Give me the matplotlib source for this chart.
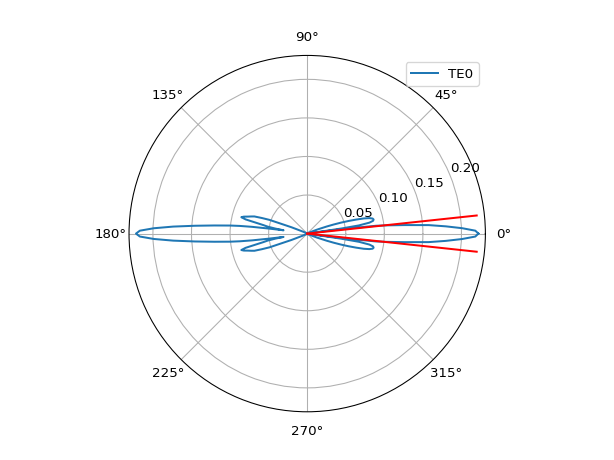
import numpy as np
import matplotlib
matplotlib.use("Agg")
import matplotlib.pyplot as plt

# angular offsets (deg) from the lobe axis, and radiated amplitude
offset_deg = [0, 1, 2, 3, 4, 5, 6, 6.5, 7, 7.5, 8, 8.5, 9, 10, 11, 12, 13, 14,
              15, 16, 17, 18, 19, 20, 22, 25, 30, 45, 60, 90]
# lobe around 0 deg
r_front = [0.222, 0.218, 0.201, 0.180, 0.158, 0.127, 0.102, 0.090, 0.060, 0.030,
           0.005, 0.045, 0.068, 0.082, 0.087, 0.088, 0.087, 0.083,
           0.076, 0.066, 0.056, 0.046, 0.036, 0.027, 0.014, 0.005, 0.002, 0.001, 0.0005, 0.0003]
# lobe around 180 deg
r_back = [0.222, 0.217, 0.199, 0.174, 0.146, 0.121, 0.100, 0.088, 0.072, 0.050,
          0.031, 0.036, 0.042, 0.052, 0.058, 0.068, 0.082, 0.088,
          0.085, 0.080, 0.076, 0.072, 0.062, 0.052, 0.022, 0.006, 0.002, 0.001, 0.0005, 0.0003]

red_angle_deg = 6.1
red_length = 0.221
r_max = 0.231
series_label = "TE0"

off = np.array(offset_deg)
rf = np.array(r_front)
rb = np.array(r_back)

theta_deg = np.concatenate([off, 180 - off[::-1], 180 + off[1:], 360 - off[::-1]])
r_vals = np.concatenate([rf, rb[::-1], rb[1:], rf[::-1]])

fig = plt.figure(figsize=(6.4, 4.8), dpi=96)
ax = fig.add_axes([0.5 - 0.29, 0.4913 - 0.387, 0.58, 0.774], projection="polar")
ax.plot(np.deg2rad(theta_deg), r_vals, color="C0", lw=1.5, label=series_label)
for a in (red_angle_deg, -red_angle_deg):
    ax.plot([np.deg2rad(a), np.deg2rad(a)], [0, red_length], color="red", lw=1.5)
ax.set_rmax(r_max)
ax.set_rmin(0)
ax.set_rticks([0.05, 0.10, 0.15, 0.20])
ax.set_yticklabels(["0.05", "0.10", "0.15", "0.20"])
ax.legend(loc="upper right")
fig.savefig("out.png", dpi=96)
